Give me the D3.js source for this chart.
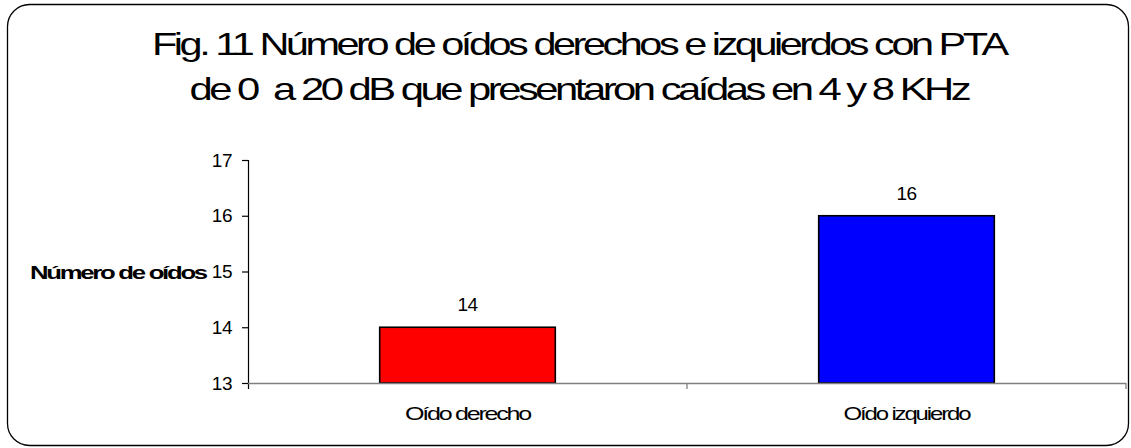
<!DOCTYPE html>
<html>
<head>
<meta charset="utf-8">
<script src="https://cdn.jsdelivr.net/npm/d3@7"></script>
<style>
  html, body { margin: 0; padding: 0; background: #ffffff; }
  svg { display: block; font-family: "Liberation Sans", Arial, sans-serif; }
</style>
</head>
<body>
<svg id="chart" width="1131" height="448"></svg>
<script>
// Chart data
const categories = ["Oído derecho", "Oído izquierdo"];
const values = [14, 16];
const barColors = ["#ff0000", "#0000ff"];
const yTicks = [13, 14, 15, 16, 17];
const titleLines = [
  "Fig. 11 Número de oídos derechos e izquierdos con PTA",
  "de 0  a 20 dB que presentaron caídas en 4 y 8 KHz"
];
const yAxisLabel = "Número de oídos";

const svg = d3.select("#chart");

// Draws text with tight letter spacing, widened to a given width
function tightText(parent, str, opts) {
  const t = parent.append("text")
    .attr("font-size", opts.size)
    .attr("font-weight", opts.weight || "normal")
    .attr("letter-spacing", opts.spacing)
    .attr("fill", "#000")
    .attr("xml:space", "preserve")
    .style("white-space", "pre")
    .text(str);
  const w = t.node().getComputedTextLength();
  const k = opts.width / w;
  const x0 = opts.anchor === "start" ? opts.x : opts.x - opts.width / 2;
  t.attr("transform", `translate(${x0},${opts.y}) scale(${k},1)`);
  return t;
}

// Rounded frame around the whole figure
svg.append("rect")
  .attr("x", 7.5).attr("y", 4.5)
  .attr("width", 1121).attr("height", 441)
  .attr("rx", 22).attr("ry", 22)
  .attr("fill", "#ffffff")
  .attr("stroke", "#000000")
  .attr("stroke-width", 1.3);

// Title, two centred lines
const titleWidths = [854, 779];
titleLines.forEach((line, i) => {
  tightText(svg, line, { x: 579, y: 55 + i * 45, size: 31, spacing: -2.6, width: titleWidths[i] });
});

// Plot area
const plot = { left: 248, right: 1126, top: 160, bottom: 383 };

const x = d3.scaleBand()
  .domain(categories)
  .range([plot.left, plot.right])
  .paddingInner(0.6)
  .paddingOuter(0.3);

const y = d3.scaleLinear()
  .domain([13, 17])
  .range([plot.bottom, plot.top]);

// Y axis
const yAxis = d3.axisLeft(y)
  .tickValues(yTicks)
  .tickSize(6)
  .tickPadding(10)
  .tickFormat(d3.format("d"));

const gy = svg.append("g")
  .attr("transform", `translate(${plot.left},0)`)
  .call(yAxis);
gy.select(".domain").attr("d", `M0.5,${plot.top}V${plot.bottom + 6}`).attr("stroke", "#000").attr("stroke-width", 1.2);
gy.selectAll(".tick line").attr("stroke", "#000").attr("stroke-width", 1.2);
gy.selectAll(".tick text")
  .attr("font-size", 19)
  .attr("letter-spacing", -0.5)
  .attr("fill", "#000")
  .attr("font-family", "Liberation Sans, Arial, sans-serif");

// Y axis title
tightText(svg, yAxisLabel, { x: 30, y: y(15) + 7, size: 18, weight: "bold", spacing: -1.6, width: 176, anchor: "start" });

// Bars
svg.append("g")
  .selectAll("rect")
  .data(values)
  .join("rect")
  .attr("x", (d, i) => x(categories[i]))
  .attr("y", d => y(d))
  .attr("width", x.bandwidth())
  .attr("height", d => y(13) - y(d))
  .attr("fill", (d, i) => barColors[i])
  .attr("stroke", "#000")
  .attr("stroke-width", 1.6);

// Category axis: gray baseline with ticks between categories
const gx = svg.append("g");
gx.append("line")
  .attr("x1", plot.left).attr("x2", plot.right)
  .attr("y1", plot.bottom + 0.5).attr("y2", plot.bottom + 0.5)
  .attr("stroke", "#808080").attr("stroke-width", 1.5);
gx.selectAll("line.sep")
  .data([(x(categories[0]) + x.bandwidth() + x(categories[1])) / 2, plot.right])
  .join("line")
  .attr("class", "sep")
  .attr("x1", d => d).attr("x2", d => d)
  .attr("y1", plot.bottom).attr("y2", plot.bottom + 6)
  .attr("stroke", "#808080").attr("stroke-width", 1.3);

// Category labels
const catWidths = [125, 126];
categories.forEach((c, i) => {
  tightText(gx, c, { x: x(c) + x.bandwidth() / 2, y: plot.bottom + 37, size: 18, spacing: -1.6, width: catWidths[i] });
});

// Value labels above bars
svg.append("g")
  .selectAll("text")
  .data(values)
  .join("text")
  .attr("x", (d, i) => x(categories[i]) + x.bandwidth() / 2)
  .attr("y", d => y(d) - 16)
  .attr("text-anchor", "middle")
  .attr("font-size", 19)
  .attr("letter-spacing", -0.5)
  .attr("fill", "#000")
  .text(d => d);
</script>
</body>
</html>
